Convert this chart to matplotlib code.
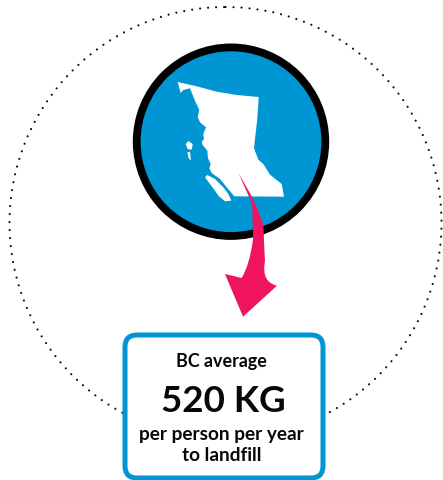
import matplotlib
matplotlib.use("Agg")
import matplotlib.pyplot as plt
from matplotlib.patches import Circle, Polygon, FancyBboxPatch, PathPatch
from matplotlib.path import Path

BLUE = "#0095D3"
PINK = "#F0145F"
INK = "#0A0606"

title_text = "BC average"
value_text = "520 KG"
unit_lines = ["per person per year", "to landfill"]

# Map outline, traced in pixels of the picture
mainland = [(177.7,83),(196.7,87.3),(216.7,92.7),(236.7,96),(258.7,98),(257.3,120),(255,140),(254,149.3),
            (258.3,160.7),(263.3,165),(270,175.7),(281.7,185),(284,197.7),(234.3,197.3),(226.7,188.3),
            (220,180),(211.7,174),(209.3,169.3),(210.7,165),(208,159.3),(207.3,151.7),(202.7,146),
            (201.7,143.3),(204,140),(203.3,135),(206,128.3),(200,123.3),(197.7,118.3),(199.3,111),
            (195,101.7),(190,89.3),(183.3,91),(180.7,94)]
island_south = [(205,178.3),(207.3,176),(215,180),(223.3,188.3),(228.3,195),(231.3,201.7),(225,202.3),
                (218.3,196.7),(215,191.7),(210,185)]
island_north_a = [(185.7,145),(188.3,142),(192.7,145),(191.7,150.7),(187.7,150)]
island_north_b = [(187.3,153.3),(190,152.7),(191,161.7),(188.7,159.3)]

arrow_verts = [(238.3,174.3),(258,205),(263.5,228),(264,245),(265,262),(261,283),(277,286.7),(243,317.7),
               (225,275),(241.7,279),(250,265),(253,240),(253,220),(252,205),(246,190),(238.3,174.3),(238.3,174.3)]
arrow_codes = [Path.MOVETO,Path.CURVE3,Path.CURVE3,Path.CURVE3,Path.CURVE3,Path.CURVE3,Path.LINETO,Path.LINETO,
               Path.LINETO,Path.LINETO,Path.CURVE3,Path.CURVE3,Path.CURVE3,Path.CURVE3,Path.CURVE3,Path.CURVE3,Path.CLOSEPOLY]

fig = plt.figure(figsize=(4.43, 4.81), dpi=100)
ax = fig.add_axes([0, 0, 1, 1])
ax.set_xlim(0, 443)
ax.set_ylim(481, 0)
ax.axis("off")

ax.add_patch(Circle((225.5, 224), 216, fill=False, edgecolor="#111111", lw=1.6,
                    linestyle=(0, (0.01, 3.6)), capstyle="round", zorder=1))
ax.add_patch(Circle((231, 142.7), 94.3, facecolor=BLUE, edgecolor="black", lw=5.6, zorder=2))
for shape in (mainland, island_south, island_north_a, island_north_b):
    ax.add_patch(Polygon(shape, closed=True, facecolor="white", edgecolor="none", zorder=3))
ax.add_patch(PathPatch(Path(arrow_verts, arrow_codes), facecolor=PINK, edgecolor="none", zorder=4))
ax.add_patch(FancyBboxPatch((137, 348), 174, 119, boxstyle="round,pad=12,rounding_size=12",
                            facecolor="white", edgecolor=BLUE, lw=3.6, zorder=5))

fam = ["Lato", "DejaVu Sans"]
kw = dict(ha="center", va="center", color=INK, family=fam, fontweight="bold", zorder=6)
ax.text(221.7, 361.5, title_text, fontsize=12.9, **kw)
ax.text(223, 401.5, value_text, fontsize=26.5, **kw)
ax.text(221.7, 435, unit_lines[0], fontsize=13.7, **kw)
ax.text(221.7, 456, unit_lines[1], fontsize=13.7, **kw)

fig.savefig("out.png", dpi=100)
